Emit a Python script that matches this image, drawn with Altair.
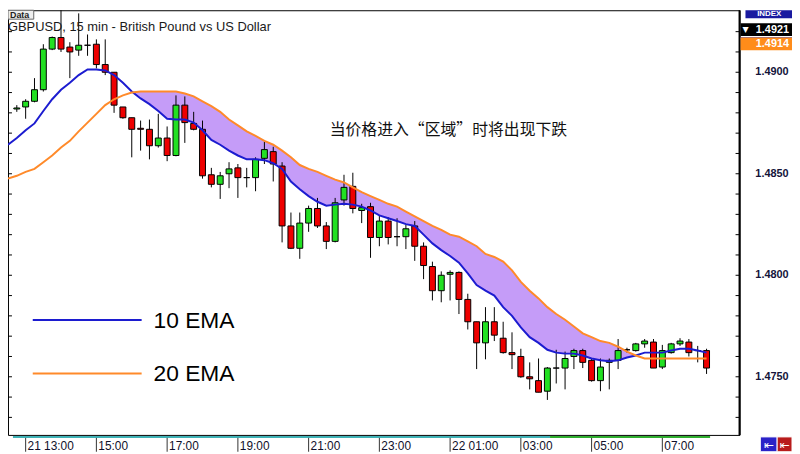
import altair as alt
import pandas as pd

# ---- candle data (15 min bars, index 0 = 21 13:00) ----
idx = list(range(-1, 78))
opens = [1.48819, 1.48829, 1.48857, 1.48914, 1.49114, 1.49171, 1.49124, 1.49109, 1.49133, 1.49138,
         1.49038, 1.49000, 1.48829, 1.48776, 1.48724, 1.48719, 1.48638, 1.48676, 1.48590, 1.48838,
         1.48748, 1.48719, 1.48495, 1.48448, 1.48500, 1.48529, 1.48481, 1.48481, 1.48576, 1.48609,
         1.48538, 1.48243, 1.48133, 1.48257, 1.48329, 1.48243, 1.48167, 1.48371, 1.48438, 1.48319,
         1.48338, 1.48186, 1.48267, 1.48190, 1.48190, 1.48243, 1.48143, 1.48043, 1.47924, 1.48005,
         1.48014, 1.47881, 1.47771, 1.47667, 1.47771, 1.47690, 1.47619, 1.47600, 1.47500, 1.47481,
         1.47429, 1.47543, 1.47543, 1.47600, 1.47629, 1.47581, 1.47481, 1.47571, 1.47581, 1.47633,
         1.47629, 1.47662, 1.47671, 1.47548, 1.47619, 1.47662, 1.47671, 1.47629, 1.47629]
highs = [1.48838, 1.48867, 1.48971, 1.49138, 1.49176, 1.49310, 1.49148, 1.49290, 1.49186, 1.49162,
         1.49162, 1.49000, 1.48829, 1.48776, 1.48762, 1.48767, 1.48795, 1.48733, 1.48886, 1.48881,
         1.48805, 1.48762, 1.48529, 1.48509, 1.48557, 1.48548, 1.48529, 1.48581, 1.48657, 1.48633,
         1.48557, 1.48309, 1.48309, 1.48343, 1.48381, 1.48262, 1.48381, 1.48495, 1.48505, 1.48352,
         1.48357, 1.48295, 1.48286, 1.48281, 1.48248, 1.48267, 1.48162, 1.48067, 1.48019, 1.48024,
         1.48019, 1.47909, 1.47771, 1.47843, 1.47843, 1.47771, 1.47719, 1.47638, 1.47571, 1.47590,
         1.47548, 1.47633, 1.47624, 1.47638, 1.47638, 1.47590, 1.47590, 1.47590, 1.47686, 1.47643,
         1.47667, 1.47686, 1.47686, 1.47657, 1.47667, 1.47690, 1.47686, 1.47652, 1.47638]
lows = [1.48805, 1.48771, 1.48852, 1.48905, 1.49109, 1.49100, 1.48971, 1.49081, 1.49081, 1.49019,
        1.48986, 1.48800, 1.48771, 1.48581, 1.48614, 1.48571, 1.48629, 1.48562, 1.48586, 1.48652,
        1.48714, 1.48476, 1.48433, 1.48376, 1.48429, 1.48381, 1.48433, 1.48414, 1.48548, 1.48462,
        1.48162, 1.48129, 1.48081, 1.48214, 1.48233, 1.48129, 1.48162, 1.48343, 1.48305, 1.48257,
        1.48086, 1.48143, 1.48152, 1.48143, 1.48129, 1.48071, 1.47981, 1.47876, 1.47867, 1.47876,
        1.47809, 1.47733, 1.47538, 1.47586, 1.47676, 1.47614, 1.47538, 1.47495, 1.47438, 1.47424,
        1.47386, 1.47467, 1.47438, 1.47538, 1.47543, 1.47476, 1.47429, 1.47438, 1.47538, 1.47619,
        1.47624, 1.47643, 1.47543, 1.47538, 1.47614, 1.47652, 1.47600, 1.47571, 1.47514]
closes = [1.48824, 1.48857, 1.48914, 1.49114, 1.49171, 1.49114, 1.49100, 1.49133, 1.49133, 1.49038,
          1.49000, 1.48838, 1.48776, 1.48719, 1.48719, 1.48638, 1.48676, 1.48590, 1.48838, 1.48752,
          1.48719, 1.48490, 1.48448, 1.48490, 1.48524, 1.48481, 1.48481, 1.48571, 1.48619, 1.48548,
          1.48243, 1.48133, 1.48257, 1.48329, 1.48243, 1.48167, 1.48357, 1.48433, 1.48329, 1.48333,
          1.48186, 1.48267, 1.48186, 1.48190, 1.48229, 1.48143, 1.48048, 1.47924, 1.48000, 1.48014,
          1.47881, 1.47771, 1.47667, 1.47771, 1.47705, 1.47619, 1.47609, 1.47500, 1.47490, 1.47424,
          1.47543, 1.47543, 1.47590, 1.47629, 1.47571, 1.47481, 1.47548, 1.47581, 1.47629, 1.47633,
          1.47662, 1.47676, 1.47543, 1.47629, 1.47662, 1.47676, 1.47619, 1.47629, 1.47543]

# ---- moving averages ----
ema_idx = list(range(-2, 78))
ema10 = [1.48643, 1.48676, 1.48714, 1.48748, 1.48809, 1.48867, 1.48914, 1.48948, 1.48986, 1.49014,
         1.49014, 1.49009, 1.48986, 1.48948, 1.48905, 1.48871, 1.48843, 1.48809, 1.48771, 1.48767,
         1.48767, 1.48752, 1.48714, 1.48667, 1.48643, 1.48614, 1.48590, 1.48571, 1.48571, 1.48567,
         1.48552, 1.48524, 1.48462, 1.48424, 1.48390, 1.48362, 1.48343, 1.48348, 1.48352, 1.48348,
         1.48338, 1.48319, 1.48295, 1.48281, 1.48267, 1.48252, 1.48243, 1.48200, 1.48157, 1.48124,
         1.48095, 1.48062, 1.48009, 1.47952, 1.47924, 1.47900, 1.47843, 1.47800, 1.47743, 1.47695,
         1.47667, 1.47633, 1.47619, 1.47614, 1.47614, 1.47605, 1.47590, 1.47581, 1.47576, 1.47581,
         1.47595, 1.47605, 1.47619, 1.47619, 1.47619, 1.47629, 1.47638, 1.47638, 1.47629, 1.47619]
ema20 = [1.48476, 1.48490, 1.48509, 1.48524, 1.48557, 1.48590, 1.48629, 1.48662, 1.48709, 1.48752,
         1.48795, 1.48838, 1.48867, 1.48886, 1.48900, 1.48905, 1.48905, 1.48905, 1.48905, 1.48905,
         1.48895, 1.48881, 1.48857, 1.48833, 1.48805, 1.48767, 1.48738, 1.48709, 1.48686, 1.48662,
         1.48643, 1.48614, 1.48581, 1.48543, 1.48524, 1.48509, 1.48490, 1.48471, 1.48457, 1.48433,
         1.48409, 1.48390, 1.48371, 1.48352, 1.48338, 1.48314, 1.48290, 1.48267, 1.48243, 1.48224,
         1.48200, 1.48190, 1.48167, 1.48143, 1.48105, 1.48090, 1.48067, 1.48024, 1.47967, 1.47924,
         1.47886, 1.47843, 1.47809, 1.47781, 1.47748, 1.47714, 1.47695, 1.47676, 1.47667, 1.47648,
         1.47624, 1.47605, 1.47590, 1.47590, 1.47590, 1.47590, 1.47590, 1.47590, 1.47590, 1.47590]

# ---- axis content ----
time_idx = [0, 8, 16, 24, 32, 40, 48, 56, 64, 72]
time_labels = ["21 13:00", "15:00", "17:00", "19:00", "21:00", "23:00",
               "22 01:00", "03:00", "05:00", "07:00"]
price_ticks = [1.473, 1.474, 1.475, 1.476, 1.477, 1.478, 1.479, 1.480, 1.481, 1.482,
               1.483, 1.484, 1.485, 1.486, 1.487, 1.488, 1.489, 1.490, 1.491, 1.492]
price_labels = [1.475, 1.480, 1.485, 1.490]
tag_prices = [1.4921, 1.4914]
tag_texts = ["1.4921", "1.4914"]
tag_colors = ["#000000", "#ff8c1a"]
session_start = [-1.4355, 59.3]
session_end = [59.3, 77.4]
session_colors = ["#3fb2b6", "#2fae2f"]

W, H = 739, 429
FONT = "Liberation Sans"

xs = alt.Scale(domain=[-1.4355, 80.17], nice=False, zero=False)
ys = alt.Scale(domain=[1.47238, 1.49281], nice=False, zero=False)

candles = pd.DataFrame({"i": idx, "open": opens, "high": highs, "low": lows, "close": closes})
candles["dir"] = ["up" if c > o else ("down" if c < o else "flat") for o, c in zip(opens, closes)]
emas = pd.DataFrame({"i": ema_idx, "ema10": ema10, "ema20": ema20})

X = alt.X("i:Q", scale=xs, axis=None)

fill = alt.Chart(emas).transform_calculate(
    top="max(datum.ema10, datum.ema20)"
).mark_area(color="#c59cf8", clip=True).encode(
    x=X, y=alt.Y("ema10:Q", scale=ys, axis=None), y2=alt.Y2("top:Q"))

wicks = alt.Chart(candles).mark_rule(color="#000000", strokeWidth=1, clip=True).encode(
    x=X, y=alt.Y("low:Q", scale=ys, axis=None), y2=alt.Y2("high:Q"))

bodies = alt.Chart(candles).mark_bar(size=6, stroke="#000000", strokeWidth=1, clip=True).encode(
    x=X, y=alt.Y("open:Q", scale=ys, axis=None), y2=alt.Y2("close:Q"),
    color=alt.Color("dir:N", scale=alt.Scale(domain=["up", "down", "flat"],
                                             range=["#22e022", "#ee0000", "#000000"]), legend=None))

line10 = alt.Chart(emas).mark_line(color="#1c1cd0", strokeWidth=2, clip=True).encode(
    x=X, y=alt.Y("ema10:Q", scale=ys, axis=None))
line20 = alt.Chart(emas).mark_line(color="#ff8a2a", strokeWidth=2, clip=True).encode(
    x=X, y=alt.Y("ema20:Q", scale=ys, axis=None))

ticks_df = pd.DataFrame({"p": price_ticks})
rticks = alt.Chart(ticks_df).mark_rule(color="#000000").encode(
    y=alt.Y("p:Q", scale=ys, axis=None), x=alt.value(W - 4), x2=alt.value(W))
lticks = alt.Chart(ticks_df).mark_rule(color="#000000").encode(
    y=alt.Y("p:Q", scale=ys, axis=None), x=alt.value(0), x2=alt.value(4))

plabels = alt.Chart(pd.DataFrame({"p": price_labels})).transform_calculate(
    t="format(datum.p, '.4f')"
).mark_text(align="left", baseline="middle", font=FONT, fontSize=11, fontWeight="bold",
            color="#14143a").encode(
    y=alt.Y("p:Q", scale=ys, axis=None), x=alt.value(755), text="t:N")

right_edge = alt.Chart(pd.DataFrame({"a": [0]})).mark_rule(color="#000000", strokeWidth=2).encode(
    x=alt.value(W), y=alt.value(0), y2=alt.value(H))

# time axis
tdf = pd.DataFrame({"i": time_idx, "t": time_labels})
tticks = alt.Chart(tdf).mark_rule(color="#333333").encode(
    x=X, y=alt.value(H + 3), y2=alt.value(H + 17))
tlabels = alt.Chart(tdf).mark_text(align="left", baseline="middle", dx=2, font=FONT,
                                   fontSize=12, color="#10102a").encode(
    x=X, y=alt.value(H + 11), text="t:N")

sess = alt.Chart(pd.DataFrame({"s": session_start, "e": session_end, "c": session_colors})).mark_rect().encode(
    x=alt.X("s:Q", scale=xs, axis=None), x2=alt.X2("e:Q"),
    y=alt.value(H + 1), y2=alt.value(H + 3), color=alt.Color("c:N", scale=None))

# price tags on the right
tags = pd.DataFrame({"p": tag_prices, "t": tag_texts, "c": tag_colors})
tag_box = alt.Chart(tags).mark_bar(orient="horizontal", size=13).encode(
    y=alt.Y("p:Q", scale=ys, axis=None), x=alt.value(W + 1), x2=alt.value(W + 53),
    color=alt.Color("c:N", scale=None))
tag_txt = alt.Chart(tags).mark_text(align="right", baseline="middle", font=FONT, fontSize=11,
                                    fontWeight="bold", color="#ffffff").encode(
    y=alt.Y("p:Q", scale=ys, axis=None), x=alt.value(W + 50), text="t:N")
tri = alt.Chart(pd.DataFrame({"p": [1.4921], "t": ["▼"]})).mark_text(
    align="left", baseline="middle", fontSize=8, color="#ffffff", font="DejaVu Sans").encode(
    y=alt.Y("p:Q", scale=ys, axis=None), x=alt.value(W + 3), text="t:N")
bidline = alt.Chart(pd.DataFrame({"p": [1.49167]})).mark_rule(color="#2a2aa8", strokeWidth=2).encode(
    y=alt.Y("p:Q", scale=ys, axis=None), x=alt.value(W + 1), x2=alt.value(W + 53))

index_box = alt.Chart(pd.DataFrame({"a": [0]})).mark_rect(color="#1a1aa0").encode(
    x=alt.value(W + 6), x2=alt.value(W + 53), y=alt.value(0), y2=alt.value(8))
index_txt = alt.Chart(pd.DataFrame({"t": ["INDEX"]})).mark_text(
    align="center", baseline="middle", font=FONT, fontSize=8, fontWeight="bold", color="#ffffff").encode(
    x=alt.value(W + 30), y=alt.value(4), text="t:N")

btn_x0 = [W + 21, W + 38]
btn_x1 = [W + 38, W + 53]
btn_c = ["#2a22c8", "#b81c1c"]
buttons = alt.layer(*[
    alt.Chart(pd.DataFrame({"a": [0]})).mark_rect(color=c, stroke="#ffffff", strokeWidth=1).encode(
        x=alt.value(x0), x2=alt.value(x1), y=alt.value(H + 2), y2=alt.value(H + 17))
    for x0, x1, c in zip(btn_x0, btn_x1, btn_c)
] + [
    alt.Chart(pd.DataFrame({"t": ["⇤"]})).mark_text(fontSize=12, color="#ffffff", font="DejaVu Sans",
                                                    baseline="middle").encode(
        x=alt.value((x0 + x1) / 2), y=alt.value(H + 10), text="t:N")
    for x0, x1 in zip(btn_x0, btn_x1)
])

# header texts
data_box = alt.Chart(pd.DataFrame({"a": [0]})).mark_rect(color="#eeeeee", stroke="#666666").encode(
    x=alt.value(0), x2=alt.value(26), y=alt.value(0), y2=alt.value(9))
data_txt = alt.Chart(pd.DataFrame({"t": ["Data"]})).mark_text(
    align="left", baseline="middle", font=FONT, fontSize=9, fontWeight="bold", color="#222222").encode(
    x=alt.value(2), y=alt.value(4.5), text="t:N")
title_txt = alt.Chart(pd.DataFrame({"t": ["GBPUSD, 15 min - British Pound vs US Dollar"]})).mark_text(
    align="left", baseline="middle", font=FONT, fontSize=13, color="#1a1a1a").encode(
    x=alt.value(0), y=alt.value(17), text="t:N")

# legend
leg_t = ["10 EMA", "20 EMA"]
leg_c = ["#1c1cd0", "#ff8a2a"]
leg_y = [313, 367]
leg_lines = alt.layer(*[
    alt.Chart(pd.DataFrame({"a": [0]})).mark_rule(color=c, strokeWidth=2).encode(
        x=alt.value(25), x2=alt.value(135), y=alt.value(yy))
    for c, yy in zip(leg_c, leg_y)
])
leg_txt = alt.layer(*[
    alt.Chart(pd.DataFrame({"t": [t]})).mark_text(align="left", baseline="middle", font=FONT,
                                                  fontSize=23, color="#000000").encode(
        x=alt.value(147), y=alt.value(yy + 1), text="t:N")
    for t, yy in zip(leg_t, leg_y)
])

note = alt.Chart(pd.DataFrame({"t": ["当价格进入“区域”时将出现下跌"]})).mark_text(
    align="left", baseline="middle", font="Noto Sans CJK SC", fontSize=16, color="#111111").encode(
    x=alt.value(325), y=alt.value(121), text="t:N")

chart = alt.layer(
    fill, wicks, bodies, line10, line20,
    rticks, lticks, right_edge, plabels,
    sess, tticks, tlabels,
    bidline, tag_box, tag_txt, tri, index_box, index_txt, buttons,
    data_box, data_txt, title_txt, leg_lines, leg_txt, note
).properties(
    width=W, height=H,
    autosize=alt.AutoSizeParams(type="none"),
    padding={"left": 0, "top": 0, "right": 53, "bottom": 17},
    background="#ffffff"
).configure_view(stroke="#000000", strokeWidth=1)

chart.save("out.html", embed_options={"renderer": "svg", "actions": False})
